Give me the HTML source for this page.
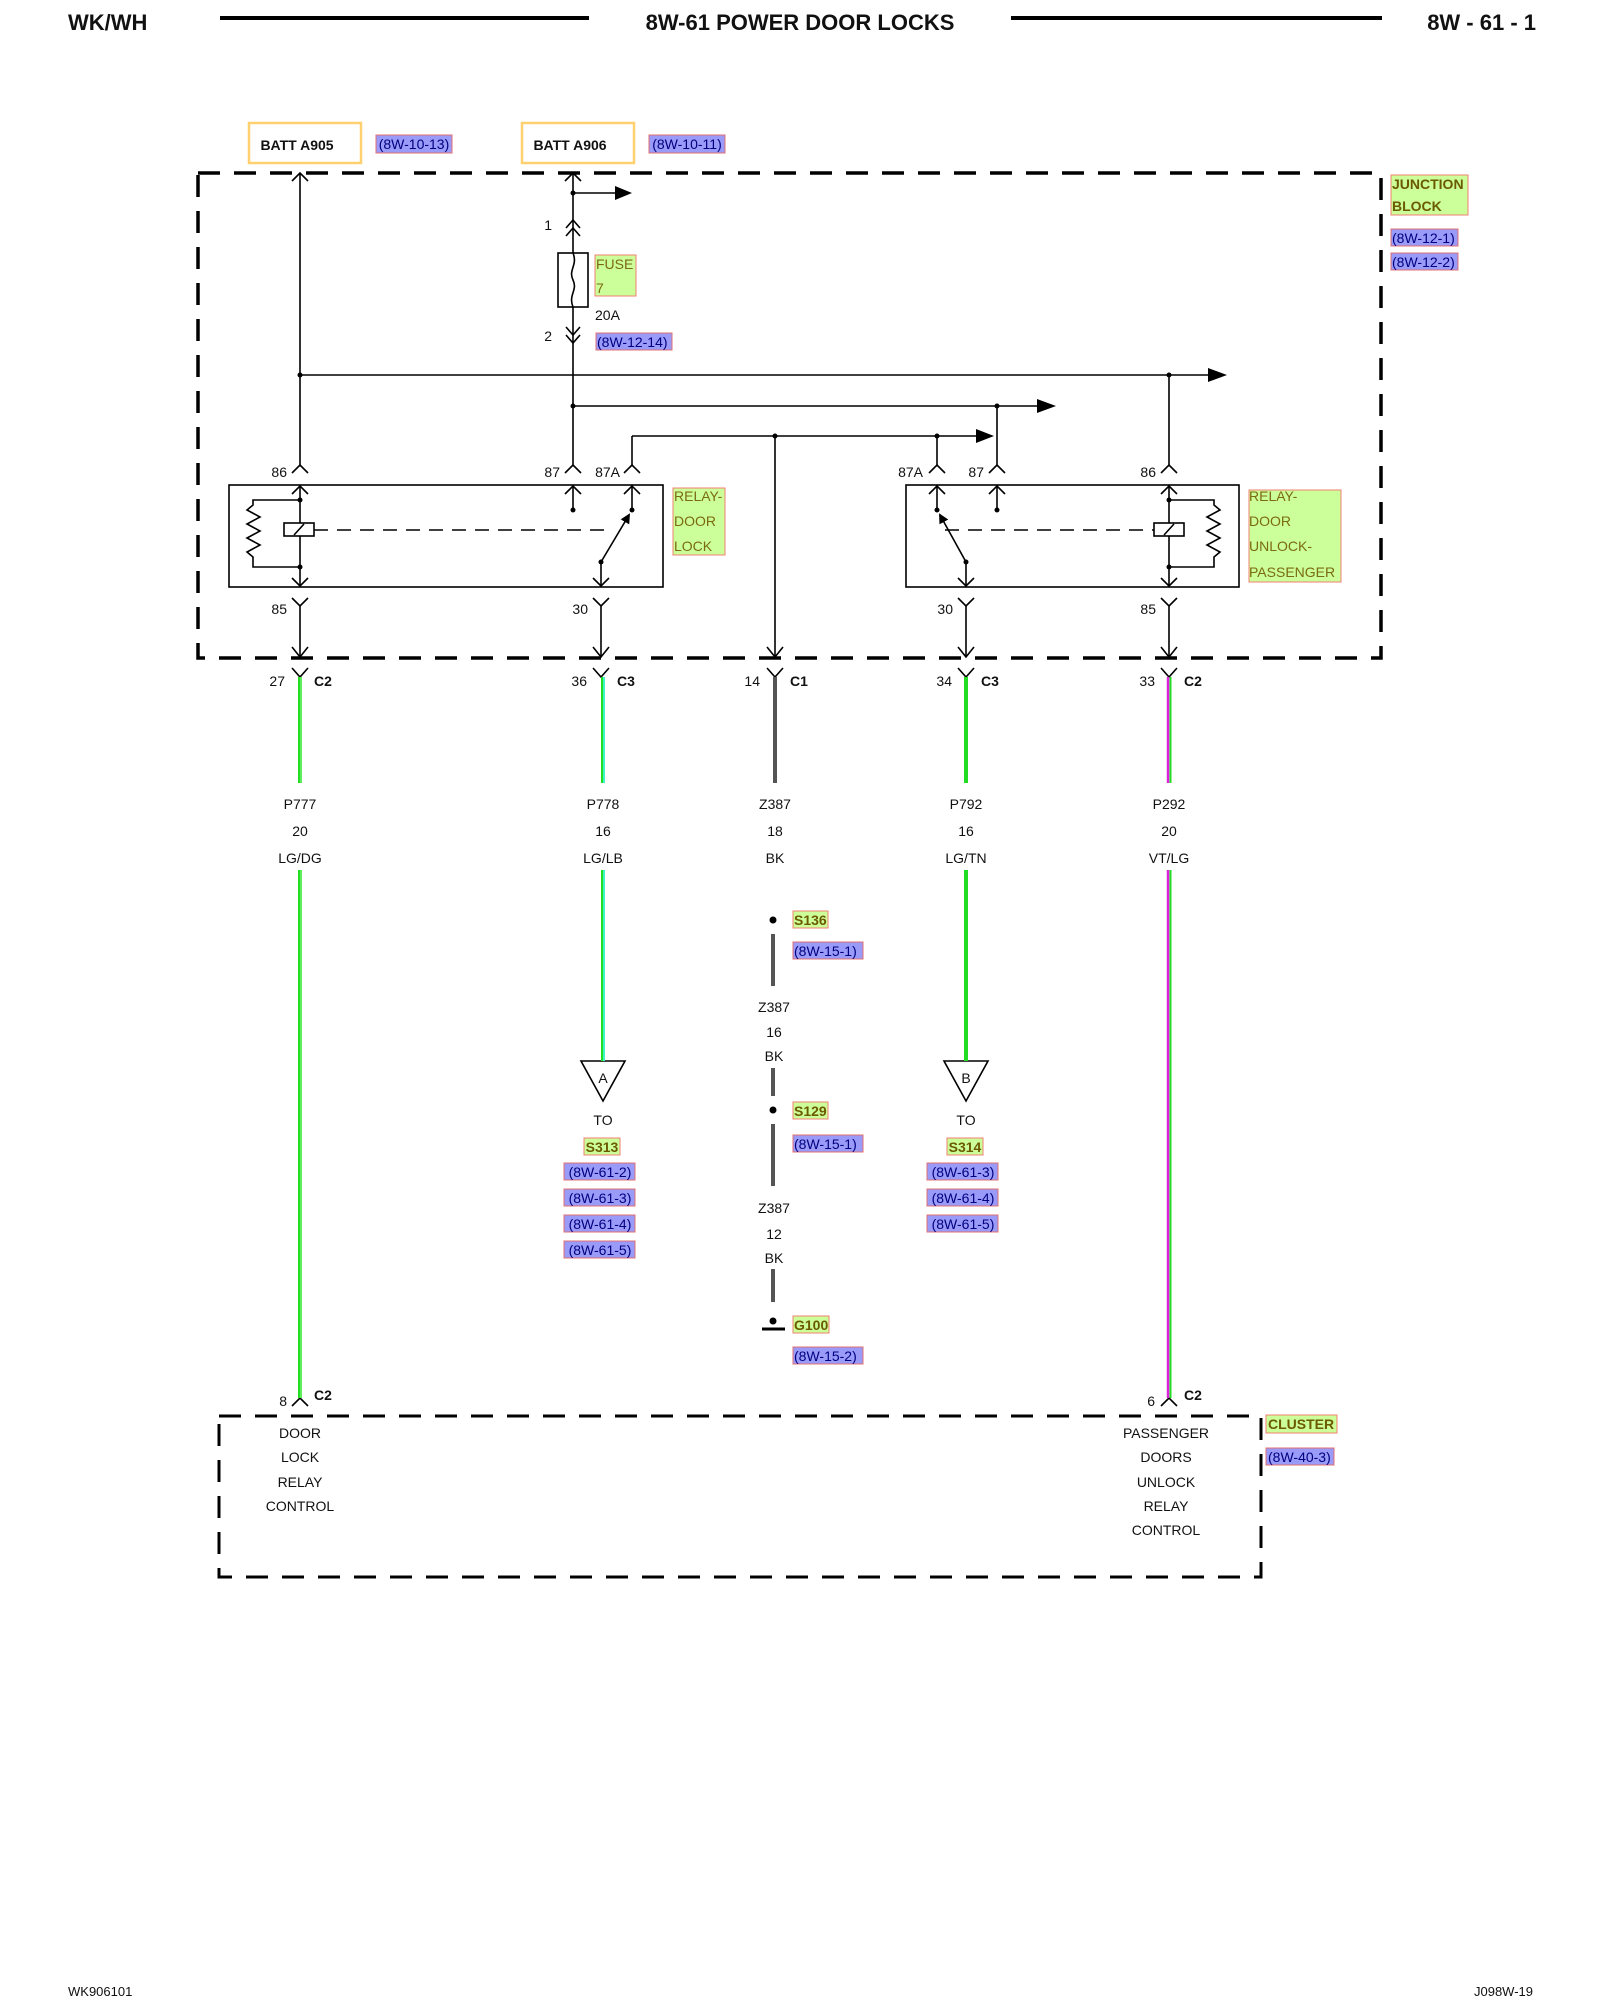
<!DOCTYPE html>
<html><head><meta charset="utf-8"><style>
html,body{margin:0;padding:0;background:#fff}
svg{display:block}
text{font-family:"Liberation Sans",Arial,sans-serif;font-size:14px;fill:#111}
.m{text-anchor:middle}
.b{font-weight:bold}
.ref{fill:#000080}
.grn{fill:#6b5a00;font-weight:bold}
.gl{fill:#7a6a10}
</style></head><body>
<svg width="1600" height="2000" viewBox="0 0 1600 2000" xmlns="http://www.w3.org/2000/svg">
<defs>
<marker id="ah" markerWidth="10" markerHeight="10" refX="8" refY="5" orient="auto" markerUnits="userSpaceOnUse"><path d="M0,0 L10,5 L0,10 z" fill="#000"/></marker>
</defs>
<!-- header -->
<text x="68" y="30" class="b" style="font-size:22px">WK/WH</text>
<line x1="220" y1="18" x2="589" y2="18" stroke="#000" stroke-width="4"/>
<text x="800" y="30" class="b m" style="font-size:22px">8W-61 POWER DOOR LOCKS</text>
<line x1="1011" y1="18" x2="1382" y2="18" stroke="#000" stroke-width="4"/>
<text x="1536" y="30" class="b" style="font-size:22px;text-anchor:end">8W - 61 - 1</text>

<!-- BATT boxes -->
<rect x="249" y="123" width="112" height="40" fill="#fff" stroke="#ffd070" stroke-width="2.5"/>
<text x="297" y="150" class="b m" style="font-size:14px">BATT A905</text>
<rect x="376" y="135" width="76" height="18" fill="#9a9af8" stroke="#e07070"/>
<text x="414" y="149" class="m ref">(8W-10-13)</text>
<rect x="522" y="123" width="112" height="40" fill="#fff" stroke="#ffd070" stroke-width="2.5"/>
<text x="570" y="150" class="b m" style="font-size:14px">BATT A906</text>
<rect x="649" y="135" width="76" height="18" fill="#9a9af8" stroke="#e07070"/>
<text x="687" y="149" class="m ref">(8W-10-11)</text>

<!-- junction block dashed -->
<rect x="198" y="173" width="1183" height="485" fill="none" stroke="#000" stroke-width="3.5" stroke-dasharray="22,14"/>
<rect x="1391" y="175" width="77" height="40" fill="#ccff99" stroke="#f08070"/>
<text x="1392" y="189" class="grn">JUNCTION</text>
<text x="1392" y="211" class="grn">BLOCK</text>
<rect x="1391" y="229" width="67" height="17" fill="#9a9af8" stroke="#e07070"/>
<text x="1392" y="243" class="ref">(8W-12-1)</text>
<rect x="1391" y="253" width="67" height="17" fill="#9a9af8" stroke="#e07070"/>
<text x="1392" y="267" class="ref">(8W-12-2)</text>

<g stroke="#000" stroke-width="1.6" fill="none">
<!-- A905 wire -->
<line x1="300" y1="173" x2="300" y2="465"/>
<path d="M292,181 L300,173 L308,181"/>
<!-- A906 wire -->
<line x1="573" y1="173" x2="573" y2="465"/>
<path d="M565,181 L573,173 L581,181"/>
<line x1="573" y1="193" x2="620" y2="193"/>
<!-- pin1 -->
<path d="M566,228 L573,220 L580,228 M566,236 L573,228 L580,236"/>
<!-- fuse -->
<rect x="558" y="253" width="30" height="54" fill="#fff"/>
<path d="M573,253 C578,265 568,270 573,280 C578,290 568,295 573,307"/>
<!-- pin2 -->
<path d="M566,327 L573,335 L580,327 M566,335 L573,343 L580,335"/>
<!-- bus 1 -->
<line x1="300" y1="375" x2="1210" y2="375"/>
<line x1="1169" y1="375" x2="1169" y2="465"/>
<!-- bus 2 -->
<line x1="573" y1="406" x2="1040" y2="406"/>
<line x1="997" y1="406" x2="997" y2="465"/>
<!-- bus 3 -->
<line x1="632" y1="436" x2="632" y2="465"/>
<line x1="632" y1="436" x2="980" y2="436"/>
<line x1="937" y1="436" x2="937" y2="465"/>
<line x1="775" y1="436" x2="775" y2="657"/>
<path d="M767,647 L775,657 L783,647"/>
<!-- pin chevrons top -->
<path d="M292,473 L300,465 L308,473 M565,473 L573,465 L581,473 M624,473 L632,465 L640,473 M929,473 L937,465 L945,473 M989,473 L997,465 L1005,473 M1161,473 L1169,465 L1177,473"/>
<!-- relay boxes -->
<rect x="229" y="485" width="434" height="102"/>
<rect x="906" y="485" width="333" height="102"/>
<!-- box top arrows -->
<path d="M292,494 L300,486 L308,494 M565,494 L573,486 L581,494 M624,494 L632,486 L640,494 M929,494 L937,486 L945,494 M989,494 L997,486 L1005,494 M1161,494 L1169,486 L1177,494"/>
<!-- left relay -->
<line x1="300" y1="486" x2="300" y2="586"/>
<path d="M300,500 L253,500 L253,505 L247,510 L260,517 L247,524 L260,531 L247,538 L260,545 L247,552 L253,557 L253,567 L300,567"/>
<rect x="284" y="523" width="30" height="13" fill="#fff"/>
<line x1="294" y1="535" x2="304" y2="524"/>
<line x1="314" y1="530" x2="605" y2="530" stroke-dasharray="14,9"/>
<line x1="573" y1="486" x2="573" y2="510"/>
<line x1="632" y1="486" x2="632" y2="510"/>
<line x1="601" y1="562" x2="629" y2="515" marker-end="url(#ah)"/>
<line x1="601" y1="562" x2="601" y2="586"/>
<path d="M292,578 L300,586 L308,578 M593,578 L601,586 L609,578"/>
<!-- right relay -->
<line x1="1169" y1="486" x2="1169" y2="586"/>
<path d="M1169,500 L1214,500 L1214,505 L1220,510 L1207,517 L1220,524 L1207,531 L1220,538 L1207,545 L1220,552 L1214,557 L1214,567 L1169,567"/>
<rect x="1154" y="523" width="30" height="13" fill="#fff"/>
<line x1="1164" y1="535" x2="1174" y2="524"/>
<line x1="945" y1="530" x2="1154" y2="530" stroke-dasharray="14,9"/>
<line x1="997" y1="486" x2="997" y2="510"/>
<line x1="937" y1="486" x2="937" y2="510"/>
<line x1="966" y1="562" x2="940" y2="515" marker-end="url(#ah)"/>
<line x1="966" y1="562" x2="966" y2="586"/>
<path d="M958,578 L966,586 L974,578 M1161,578 L1169,586 L1177,578"/>
<!-- lower pins -->
<path d="M292,598 L300,606 L308,598 M593,598 L601,606 L609,598 M958,598 L966,606 L974,598 M1161,598 L1169,606 L1177,598"/>
<line x1="300" y1="606" x2="300" y2="657"/>
<line x1="601" y1="606" x2="601" y2="657"/>
<line x1="966" y1="606" x2="966" y2="657"/>
<line x1="1169" y1="606" x2="1169" y2="657"/>
<path d="M292,647 L300,657 L308,647 M593,647 L601,657 L609,647 M958,647 L966,657 L974,647 M1161,647 L1169,657 L1177,647"/>
<!-- connectors under -->
<path d="M292,668 L300,677 L308,668 M593,668 L601,677 L609,668 M767,668 L775,677 L783,668 M958,668 L966,677 L974,668 M1161,668 L1169,677 L1177,668"/>
<!-- triangles -->
<path d="M581,1061 L625,1061 L603,1101 Z"/>
<path d="M944,1061 L988,1061 L966,1101 Z"/>
<!-- cluster box -->
<rect x="219" y="1416" width="1042" height="161" stroke-width="3" stroke-dasharray="22,14"/>
<path d="M292,1406 L300,1398 L308,1406 M1161,1406 L1169,1398 L1177,1406"/>
</g>
<!-- arrow heads -->
<g fill="#000">
<path d="M615,186 L632,193 L615,200 Z"/>
<path d="M1208,368 L1227,375 L1208,382 Z"/>
<path d="M1037,399 L1056,406 L1037,413 Z"/>
<path d="M976,429 L994,436 L976,443 Z"/>
<circle cx="573" cy="193" r="2.5"/><circle cx="300" cy="375" r="2.5"/><circle cx="1169" cy="375" r="2.5"/>
<circle cx="573" cy="406" r="2.5"/><circle cx="997" cy="406" r="2.5"/><circle cx="775" cy="436" r="2.5"/><circle cx="937" cy="436" r="2.5"/>
<circle cx="300" cy="500" r="2.5"/><circle cx="300" cy="567" r="2.5"/><circle cx="573" cy="510" r="2.5"/><circle cx="632" cy="510" r="2.5"/><circle cx="601" cy="562" r="2.5"/>
<circle cx="1169" cy="500" r="2.5"/><circle cx="1169" cy="567" r="2.5"/><circle cx="997" cy="510" r="2.5"/><circle cx="937" cy="510" r="2.5"/><circle cx="966" cy="562" r="2.5"/>
</g>

<!-- fuse labels -->
<text x="552" y="230" style="text-anchor:end">1</text>
<rect x="595" y="255" width="41" height="41" fill="#ccff99" stroke="#f08070"/>
<text x="596" y="269" class="gl">FUSE</text>
<text x="596" y="293" class="gl">7</text>
<text x="595" y="320">20A</text>
<text x="552" y="341" style="text-anchor:end">2</text>
<rect x="596" y="333" width="76" height="17" fill="#9a9af8" stroke="#e07070"/>
<text x="597" y="347" class="ref">(8W-12-14)</text>

<!-- pin labels -->
<text x="287" y="477" style="text-anchor:end">86</text>
<text x="560" y="477" style="text-anchor:end">87</text>
<text x="620" y="477" style="text-anchor:end">87A</text>
<text x="923" y="477" style="text-anchor:end">87A</text>
<text x="984" y="477" style="text-anchor:end">87</text>
<text x="1156" y="477" style="text-anchor:end">86</text>
<text x="287" y="614" style="text-anchor:end">85</text>
<text x="588" y="614" style="text-anchor:end">30</text>
<text x="953" y="614" style="text-anchor:end">30</text>
<text x="1156" y="614" style="text-anchor:end">85</text>

<rect x="673" y="488" width="52" height="67" fill="#ccff99" stroke="#f08070"/>
<text x="674" y="501" class="gl">RELAY-</text>
<text x="674" y="526" class="gl">DOOR</text>
<text x="674" y="551" class="gl">LOCK</text>
<rect x="1249" y="490" width="92" height="92" fill="#ccff99" stroke="#f08070"/>
<text x="1249" y="501" class="gl">RELAY-</text>
<text x="1249" y="526" class="gl">DOOR</text>
<text x="1249" y="551" class="gl">UNLOCK-</text>
<text x="1249" y="577" class="gl">PASSENGER</text>

<!-- connector labels -->
<text x="285" y="686" style="text-anchor:end">27</text><text x="314" y="686" class="b">C2</text>
<text x="587" y="686" style="text-anchor:end">36</text><text x="617" y="686" class="b">C3</text>
<text x="760" y="686" style="text-anchor:end">14</text><text x="790" y="686" class="b">C1</text>
<text x="952" y="686" style="text-anchor:end">34</text><text x="981" y="686" class="b">C3</text>
<text x="1155" y="686" style="text-anchor:end">33</text><text x="1184" y="686" class="b">C2</text>

<!-- wires -->
<g>
<line x1="300" y1="677" x2="300" y2="783" stroke="#22dd22" stroke-width="4"/>
<line x1="300" y1="870" x2="300" y2="1398" stroke="#22dd22" stroke-width="4"/>
<line x1="301" y1="677" x2="301" y2="783" stroke="#9f9" stroke-width="1"/>
<line x1="301" y1="870" x2="301" y2="1398" stroke="#9f9" stroke-width="1"/>
<line x1="603" y1="677" x2="603" y2="783" stroke="#22dd22" stroke-width="4"/>
<line x1="603" y1="870" x2="603" y2="1061" stroke="#22dd22" stroke-width="4"/>
<line x1="604" y1="677" x2="604" y2="783" stroke="#4ff" stroke-width="1.5"/>
<line x1="604" y1="870" x2="604" y2="1061" stroke="#4ff" stroke-width="1.5"/>
<line x1="966" y1="677" x2="966" y2="783" stroke="#22dd22" stroke-width="4"/>
<line x1="966" y1="870" x2="966" y2="1061" stroke="#22dd22" stroke-width="4"/>
<line x1="1168" y1="677" x2="1168" y2="783" stroke="#dd22dd" stroke-width="2.5"/>
<line x1="1168" y1="870" x2="1168" y2="1398" stroke="#dd22dd" stroke-width="2.5"/>
<line x1="1170.5" y1="677" x2="1170.5" y2="783" stroke="#22dd22" stroke-width="2"/>
<line x1="1170.5" y1="870" x2="1170.5" y2="1398" stroke="#22dd22" stroke-width="2"/>
<line x1="775" y1="677" x2="775" y2="783" stroke="#555" stroke-width="4"/>
<line x1="773" y1="934" x2="773" y2="986" stroke="#555" stroke-width="4"/>
<line x1="773" y1="1068" x2="773" y2="1096" stroke="#555" stroke-width="4"/>
<line x1="773" y1="1124" x2="773" y2="1186" stroke="#555" stroke-width="4"/>
<line x1="773" y1="1269" x2="773" y2="1302" stroke="#555" stroke-width="4"/>
</g>

<!-- wire labels -->
<g class="m">
<text x="300" y="809" class="m">P777</text><text x="300" y="836" class="m">20</text><text x="300" y="863" class="m">LG/DG</text>
<text x="603" y="809" class="m">P778</text><text x="603" y="836" class="m">16</text><text x="603" y="863" class="m">LG/LB</text>
<text x="775" y="809" class="m">Z387</text><text x="775" y="836" class="m">18</text><text x="775" y="863" class="m">BK</text>
<text x="966" y="809" class="m">P792</text><text x="966" y="836" class="m">16</text><text x="966" y="863" class="m">LG/TN</text>
<text x="1169" y="809" class="m">P292</text><text x="1169" y="836" class="m">20</text><text x="1169" y="863" class="m">VT/LG</text>
<text x="774" y="1012" class="m">Z387</text><text x="774" y="1037" class="m">16</text><text x="774" y="1061" class="m">BK</text>
<text x="774" y="1213" class="m">Z387</text><text x="774" y="1239" class="m">12</text><text x="774" y="1263" class="m">BK</text>
</g>

<!-- splices -->
<circle cx="773" cy="920" r="3.5" fill="#000"/>
<circle cx="773" cy="1110" r="3.5" fill="#000"/>
<circle cx="773" cy="1321" r="3.5" fill="#000"/>
<line x1="762" y1="1329" x2="785" y2="1329" stroke="#000" stroke-width="3"/>
<rect x="793" y="911" width="35" height="17" fill="#ccff99" stroke="#f08070"/><text x="794" y="925" class="grn">S136</text>
<rect x="793" y="942" width="70" height="17" fill="#9a9af8" stroke="#e07070"/><text x="794" y="956" class="ref">(8W-15-1)</text>
<rect x="793" y="1102" width="35" height="17" fill="#ccff99" stroke="#f08070"/><text x="794" y="1116" class="grn">S129</text>
<rect x="793" y="1135" width="70" height="17" fill="#9a9af8" stroke="#e07070"/><text x="794" y="1149" class="ref">(8W-15-1)</text>
<rect x="793" y="1316" width="36" height="17" fill="#ccff99" stroke="#f08070"/><text x="794" y="1330" class="grn">G100</text>
<rect x="793" y="1347" width="70" height="17" fill="#9a9af8" stroke="#e07070"/><text x="794" y="1361" class="ref">(8W-15-2)</text>

<!-- triangles labels -->
<text x="603" y="1083" class="m">A</text>
<text x="966" y="1083" class="m">B</text>
<text x="603" y="1125" class="m">TO</text>
<text x="966" y="1125" class="m">TO</text>
<rect x="584" y="1138" width="36" height="17" fill="#ccff99" stroke="#f08070"/><text x="602" y="1152" class="grn m">S313</text>
<rect x="947" y="1138" width="36" height="17" fill="#ccff99" stroke="#f08070"/><text x="965" y="1152" class="grn m">S314</text>
<g>
<rect x="564" y="1163" width="71" height="17" fill="#9a9af8" stroke="#e07070"/><text x="600" y="1177" class="ref m">(8W-61-2)</text>
<rect x="564" y="1189" width="71" height="17" fill="#9a9af8" stroke="#e07070"/><text x="600" y="1203" class="ref m">(8W-61-3)</text>
<rect x="564" y="1215" width="71" height="17" fill="#9a9af8" stroke="#e07070"/><text x="600" y="1229" class="ref m">(8W-61-4)</text>
<rect x="564" y="1241" width="71" height="17" fill="#9a9af8" stroke="#e07070"/><text x="600" y="1255" class="ref m">(8W-61-5)</text>
<rect x="927" y="1163" width="71" height="17" fill="#9a9af8" stroke="#e07070"/><text x="963" y="1177" class="ref m">(8W-61-3)</text>
<rect x="927" y="1189" width="71" height="17" fill="#9a9af8" stroke="#e07070"/><text x="963" y="1203" class="ref m">(8W-61-4)</text>
<rect x="927" y="1215" width="71" height="17" fill="#9a9af8" stroke="#e07070"/><text x="963" y="1229" class="ref m">(8W-61-5)</text>
</g>

<!-- cluster -->
<text x="287" y="1406" style="text-anchor:end">8</text><text x="314" y="1400" class="b">C2</text>
<text x="1155" y="1406" style="text-anchor:end">6</text><text x="1184" y="1400" class="b">C2</text>
<text x="300" y="1438" class="m">DOOR</text>
<text x="300" y="1462" class="m">LOCK</text>
<text x="300" y="1487" class="m">RELAY</text>
<text x="300" y="1511" class="m">CONTROL</text>
<text x="1166" y="1438" class="m">PASSENGER</text>
<text x="1166" y="1462" class="m">DOORS</text>
<text x="1166" y="1487" class="m">UNLOCK</text>
<text x="1166" y="1511" class="m">RELAY</text>
<text x="1166" y="1535" class="m">CONTROL</text>
<rect x="1266" y="1415" width="71" height="18" fill="#ccff99" stroke="#f08070"/><text x="1268" y="1429" class="grn">CLUSTER</text>
<rect x="1266" y="1448" width="68" height="17" fill="#9a9af8" stroke="#e07070"/><text x="1268" y="1462" class="ref">(8W-40-3)</text>

<!-- footer -->
<text x="68" y="1996" style="font-size:13px">WK906101</text>
<text x="1533" y="1996" style="font-size:13px;text-anchor:end">J098W-19</text>
</svg>
</body></html>
